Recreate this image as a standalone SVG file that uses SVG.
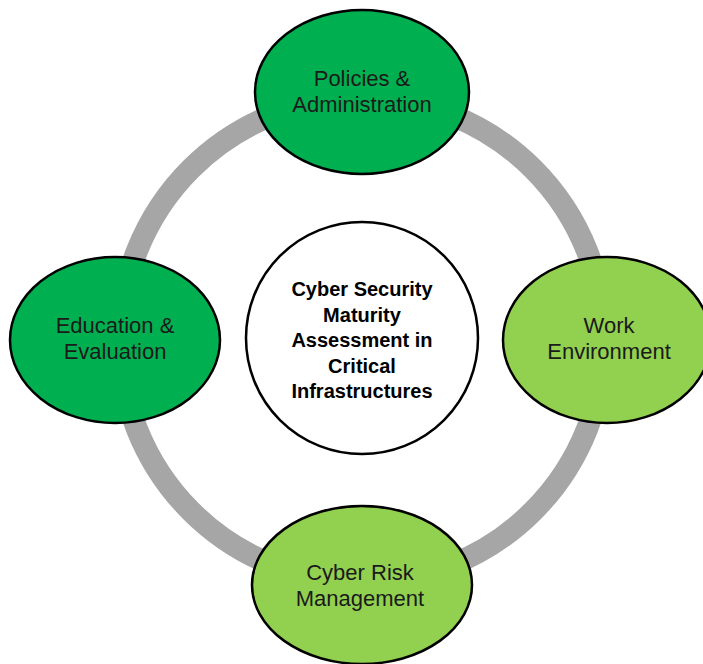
<svg xmlns="http://www.w3.org/2000/svg" width="703" height="664" viewBox="0 0 703 664">
  <style>
    .ring { fill: none; stroke: #A6A6A6; stroke-width: 22; }
    .node { stroke: #000; stroke-width: 2.5; }
    .dark { fill: #00B050; }
    .light { fill: #92D050; }
    .hub { fill: #FFFFFF; stroke: #000; stroke-width: 2.5; }
    .lbl { font-family: "Liberation Sans", Arial, sans-serif; font-size: 22px; fill: #1a1a1a; text-anchor: middle; }
    .hubtxt { font-family: "Liberation Sans", Arial, sans-serif; font-size: 20px; font-weight: bold; fill: #000; text-anchor: middle; }
  </style>
  <rect width="703" height="664" fill="#FFFFFF"/>

  <g id="connectors">
    <circle class="ring" cx="362" cy="340" r="242"/>
  </g>

  <g id="policies">
    <ellipse class="node dark" cx="362" cy="92" rx="107" ry="82"/>
    <text class="lbl" x="362" y="86">Policies &amp;</text>
    <text class="lbl" x="362" y="112">Administration</text>
  </g>

  <g id="education">
    <ellipse class="node dark" cx="115" cy="340" rx="105" ry="83"/>
    <text class="lbl" x="115" y="333">Education &amp;</text>
    <text class="lbl" x="115" y="359">Evaluation</text>
  </g>

  <g id="work">
    <ellipse class="node light" cx="607" cy="340" rx="104" ry="83"/>
    <text class="lbl" x="609" y="333">Work</text>
    <text class="lbl" x="609" y="359">Environment</text>
  </g>

  <g id="risk">
    <ellipse class="node light" cx="362" cy="585" rx="110" ry="79"/>
    <text class="lbl" x="360" y="580">Cyber Risk</text>
    <text class="lbl" x="360" y="606">Management</text>
  </g>

  <g id="hub">
    <circle class="hub" cx="362" cy="338" r="116"/>
    <text class="hubtxt" x="362" y="296">Cyber Security</text>
    <text class="hubtxt" x="362" y="322">Maturity</text>
    <text class="hubtxt" x="362" y="347">Assessment in</text>
    <text class="hubtxt" x="362" y="373">Critical</text>
    <text class="hubtxt" x="362" y="398">Infrastructures</text>
  </g>
</svg>
